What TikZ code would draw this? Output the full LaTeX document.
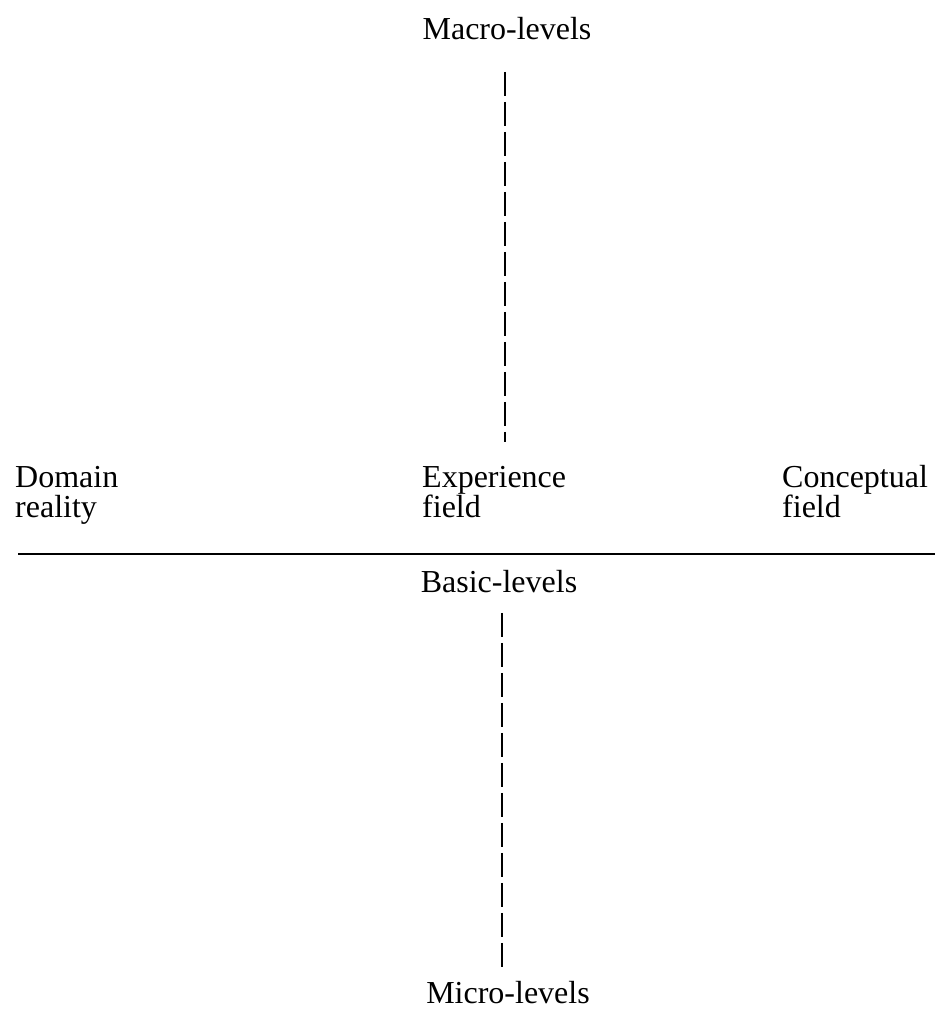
\documentclass[tikz,border=0pt]{standalone}
\usepackage{fontspec}
\setmainfont{Liberation Serif}
\begin{document}
\begin{tikzpicture}[x=1pt,y=1pt,
  lbl/.style={inner sep=0pt,font=\fontsize{32}{34}\selectfont},
  dashline/.style={line width=1.6pt,dash pattern=on 24pt off 6pt},
  solidline/.style={line width=1.8pt}]
\useasboundingbox (0,0) rectangle (942,1015);
% texts (y = 1015 - pixel row)
\node[lbl,anchor=base] (macro) at (507,975) {Macro-levels};
\node[lbl,anchor=base west] (dom1) at (15,527) {Domain};
\node[lbl,anchor=base west] (dom2) at (15,497) {reality};
\node[lbl,anchor=base west] (exp1) at (422,527) {Experience};
\node[lbl,anchor=base west] (exp2) at (422,497) {field};
\node[lbl,anchor=base west] (con1) at (782,527) {Conceptual};
\node[lbl,anchor=base west] (con2) at (782,497) {field};
\node[lbl,anchor=base] (basic) at (499,422) {Basic-levels};
\node[lbl,anchor=base] (micro) at (508,12) {Micro-levels};
% line ends
\coordinate (ua) at (505,943);
\coordinate (ub) at (505,573);
\coordinate (la) at (502,402);
\coordinate (lb) at (502,48);
\coordinate (hl) at (18,461);
\coordinate (hr) at (935,461);
\draw[dashline] (ua) -- (ub);
\draw[dashline] (la) -- (lb);
\draw[solidline] (hl) -- (hr);
\end{tikzpicture}
\end{document}
